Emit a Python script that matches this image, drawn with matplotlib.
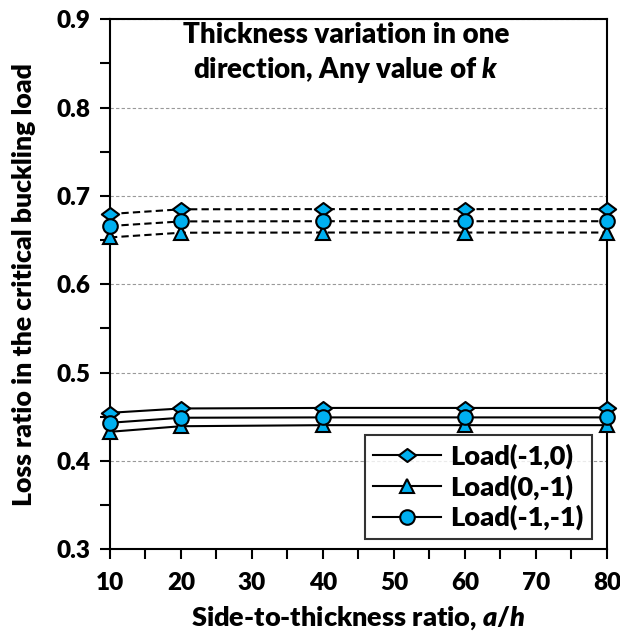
import matplotlib
matplotlib.use("Agg")
import matplotlib.pyplot as plt
from matplotlib.ticker import MultipleLocator
from matplotlib.path import Path

W = 'heavy'
plt.rcParams['font.family'] = ['Lato', 'DejaVu Sans']
plt.rcParams['font.weight'] = W
plt.rcParams['axes.labelweight'] = W
plt.rcParams['mathtext.fontset'] = 'custom'
plt.rcParams['mathtext.bfit'] = 'Lato:italic:heavy'
plt.rcParams['mathtext.it'] = 'Lato:italic:heavy'
plt.rcParams['mathtext.rm'] = 'Lato:heavy'

ratio = [10, 20, 40, 60, 80]

# solid curves (in legend)
load_10 = [0.4545, 0.4594, 0.4600, 0.4600, 0.4600]
load_01 = [0.4330, 0.4393, 0.4405, 0.4405, 0.4405]
load_11 = [0.4432, 0.4489, 0.4493, 0.4493, 0.4493]

# dashed curves
load_10_d = [0.6795, 0.6848, 0.6850, 0.6850, 0.6850]
load_01_d = [0.6530, 0.6583, 0.6585, 0.6585, 0.6585]
load_11_d = [0.6659, 0.6711, 0.6713, 0.6713, 0.6713]

labels = ["Load(-1,0)", "Load(0,-1)", "Load(-1,-1)"]

# squat diamond like the Excel one
diamond = Path([(-1, 0), (0, 0.75), (1, 0), (0, -0.75), (-1, 0)],
               [Path.MOVETO, Path.LINETO, Path.LINETO, Path.LINETO, Path.CLOSEPOLY])
markers = [diamond, "^", "o"]
sizes = [12.5, 10.5, 10.5]
blue = '#00B0F0'

fig = plt.figure(figsize=(6.2, 6.38), dpi=100)
ax = fig.add_axes([0.1774, 0.139, 0.8016, 0.831])

for ys, m, s in zip([load_10_d, load_01_d, load_11_d], markers, sizes):
    ax.plot(ratio, ys, color='black', lw=1.5, ls=(0, (3.5, 2)), marker=m,
            markersize=s, markerfacecolor=blue, markeredgecolor='black',
            markeredgewidth=1.5, clip_on=False, zorder=3)

for ys, m, s, lab in zip([load_10, load_01, load_11], markers, sizes, labels):
    ax.plot(ratio, ys, color='black', lw=1.5, marker=m, markersize=s,
            markerfacecolor=blue, markeredgecolor='black',
            markeredgewidth=1.5, label=lab, clip_on=False, zorder=3)

ax.set_xlim(10, 80)
ax.set_ylim(0.3, 0.9)
ax.xaxis.set_major_locator(MultipleLocator(10))
ax.xaxis.set_minor_locator(MultipleLocator(5))
ax.yaxis.set_major_locator(MultipleLocator(0.1))
ax.yaxis.set_minor_locator(MultipleLocator(0.05))
ax.yaxis.set_major_formatter(lambda v, p: f"{v:.1f}")
ax.tick_params(which='both', direction='out', width=1.5, labelsize=17.5,
               length=7)
ax.tick_params(axis='y', pad=7)
ax.tick_params(axis='x', pad=9)
for t in ax.get_xticklabels() + ax.get_yticklabels():
    t.set_fontweight(W)
ax.grid(axis='y', which='major', color='#999999', ls=(0, (3, 2)), lw=0.8)
for sp in ax.spines.values():
    sp.set_linewidth(1.5)

ax.set_xlabel("Side-to-thickness ratio, $\\it{a/h}$", fontsize=19.5, labelpad=8)
ax.set_ylabel("Loss ratio in the critical buckling load", fontsize=19.2)
ax.yaxis.set_label_coords(-0.148, 0.50)

ax.text(0.475, 0.936, "Thickness variation in one\ndirection, Any value of $\\it{k}$",
        transform=ax.transAxes, ha='center', va='center', fontsize=20,
        linespacing=1.3)

leg = ax.legend(loc='lower right', bbox_to_anchor=(0.98, 0.01), fontsize=19.5,
                frameon=True, fancybox=False, edgecolor='black',
                handlelength=2.5, borderpad=0.3, labelspacing=0.2,
                handletextpad=0.35, borderaxespad=0.2)
leg.get_frame().set_linewidth(1.5)

fig.savefig("out.png", dpi=100)
